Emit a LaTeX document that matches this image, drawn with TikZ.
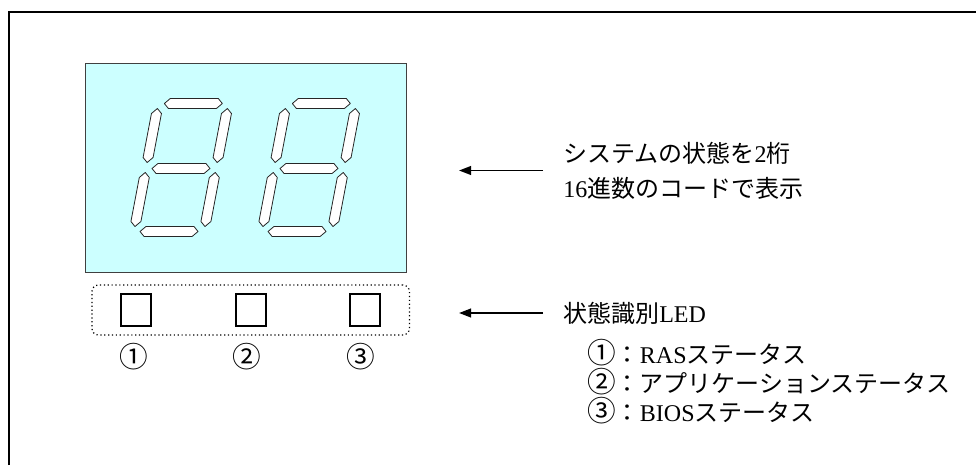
\documentclass[tikz,border=0pt]{standalone}
\usepackage{fontspec}
\setmainfont{Liberation Serif}
\newfontfamily\jpfont{Noto Sans CJK JP}
\newcommand\circnum[1]{{\jpfont\fontsize{21.5}{21.75}\selectfont #1}}
\definecolor{panelcyan}{HTML}{CCFFFF}
\usetikzlibrary{positioning,arrows.meta,fit}

\begin{document}
\begin{tikzpicture}[
  x=0.75pt,y=-0.75pt,
  font=\fontsize{18}{21.75}\selectfont,
  frame/.style={line width=1.4pt},
  panel/.style={draw=black!75,line width=0.9pt,fill=panelcyan,anchor=north west,inner sep=0pt,minimum width=240.75pt,minimum height=156.75pt},
  seg/.style={draw=black!85,fill=white,line width=0.6pt,line join=round},
  lamp/.style={draw,line width=1.6pt,inner sep=0pt,minimum width=22.5pt,minimum height=24pt},
  ledgroup/.style={draw,dotted,line width=0.9pt,rounded corners=5pt,inner xsep=21pt,inner ysep=6pt},
  note/.style={anchor=west,inner sep=0pt,align=left},
  ptr/.style={-{Triangle[length=9pt,width=6.5pt]},line width=1.4pt},
]
\useasboundingbox (0,0) rectangle (976,465);
\draw[frame] (9,465) -- (9,12) -- (976,12);

\node[panel] (disp) at (85,63) {};
%% two seven-segment digits
\foreach \cx in {181,309}{
  \begin{scope}[shift={(\cx,168.5)},xslant=0.19]
    \foreach \sy in {-65,0,63}
      \draw[seg] (-29,\sy) -- ++(5,-5) -- ++(48,0) -- ++(5,5) -- ++(-5,5) -- ++(-48,0) -- cycle;
    \foreach \sx/\sy in {-35/-33,35/-33,-35/31,35/31}
      \draw[seg] (\sx,\sy-27) -- ++(5,5) -- ++(0,44) -- ++(-5,5) -- ++(-5,-5) -- ++(0,-44) -- cycle;
  \end{scope}
}

\node[lamp] (lamp1) at (136,310) {};
\node[lamp,right=61.9pt of lamp1] (lamp2) {};
\node[lamp,right=61.9pt of lamp2] (lamp3) {};
\node[ledgroup,fit=(lamp1)(lamp3)] (leds) {};
\node (num1) at (134,357) {\circnum{①}};
\node (num2) at (247,357) {\circnum{②}};
\node (num3) at (361,357) {\circnum{③}};

\node[note,font=\fontsize{18}{26.25}\selectfont] (dispnote) at (563,170.5)
  {{\jpfont システムの状態を}2{\jpfont 桁}\\16{\jpfont 進数のコードで表示}};
\node[note] (lednote) at (563,313) {{\jpfont 状態識別}LED};
\node[note] (stats) at (587,382)
  {\circnum{①}{\jpfont ：}RAS{\jpfont ステータス}\\%
   \circnum{②}{\jpfont ：アプリケーションステータス}\\%
   \circnum{③}{\jpfont ：}BIOS{\jpfont ステータス}};

\coordinate (disptip) at ([xshift=-78pt]dispnote.west);
\coordinate (ledtip) at ([xshift=-78pt]lednote.west);
\draw[ptr] ([xshift=-15pt]dispnote.west) -- (disptip);
\draw[ptr] ([xshift=-15pt]lednote.west) -- (ledtip);
\end{tikzpicture}
\end{document}
